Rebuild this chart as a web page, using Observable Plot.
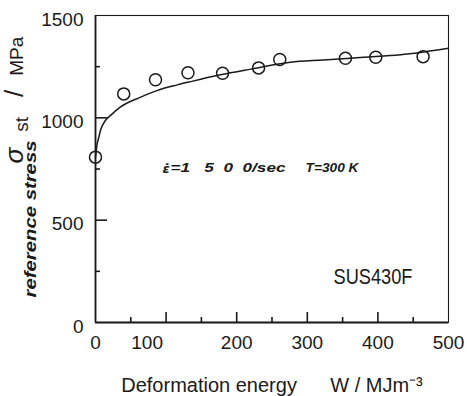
<!DOCTYPE html>
<html>
<head>
<meta charset="utf-8">
<script src="https://cdn.jsdelivr.net/npm/d3@7"></script>
<script src="https://cdn.jsdelivr.net/npm/@observablehq/plot@0.6"></script>
<style>
  body { margin: 0; background: #fff; }
</style>
</head>
<body>
<div id="chart"></div>
<script>
// Measured points (circles)
const energy = [0, 40, 85, 131, 180, 231, 261, 354, 397, 464];
const stress = [808, 1117, 1186, 1220, 1218, 1244, 1285, 1291, 1296, 1299];

// Fitted curve
const curveEnergy = [0, 2, 4.7, 7, 14, 21, 35, 64, 87, 116, 135, 177, 220, 276, 323, 380, 432, 500];
const curveStress = [806, 865, 905, 938, 987, 1011, 1052, 1101, 1133, 1161, 1177, 1210, 1238, 1272, 1283, 1296, 1308, 1340];

// Ticks
const xTickLabels = [0, 200, 300, 400, 500];
const xTickLabelShifted = [100];
const yTickLabels = [0, 500, 1000, 1500];
const xMajor = [100, 200, 300, 400];
const xMinor = [50, 150, 250, 350, 450];
const yMajor = [500, 1000];
const yMinor = [250, 750, 1250];

// Texts
const xTitle = "Deformation energy\u00a0\u00a0\u00a0\u00a0\u00a0\u00a0W / MJm⁻³";
const yTitle = "σst / MPa";
const yTitle2 = "reference stress";
const rateSymbol = "ε̇";
const rateNote = "=1\u00a0\u00a0\u00a05\u00a0\u00a00\u00a0\u00a00/sec";
const tempNote = "T=300 K";
const material = "SUS430F";

const W = 467, H = 396;
const mL = 95, mR = 19, mT = 15, mB = 74;
const plotW = W - mL - mR, plotH = H - mT - mB;
const xDomain = [0, 500], yDomain = [0, 1500];
// tick lengths given in pixels, turned into data units of the other axis
const pxToY = px => px * (yDomain[1] - yDomain[0]) / plotH;
const pxToX = px => px * (xDomain[1] - xDomain[0]) / plotW;

const font = "'Liberation Sans', Arial, sans-serif";
const ink = "#1a1a1a";
const fmt = d => String(d);

const points = energy.map((w, i) => ({ w, s: stress[i] }));
const curve = curveEnergy.map((w, i) => ({ w, s: curveStress[i] }));

const chart = Plot.plot({
  width: W,
  height: H,
  marginLeft: mL,
  marginRight: mR,
  marginTop: mT,
  marginBottom: mB,
  style: { fontFamily: font, fontSize: "19px", color: ink, background: "#fff" },
  x: { domain: xDomain },
  y: { domain: yDomain },
  marks: [
    Plot.frame({ stroke: ink, strokeWidth: 1.1 }),
    Plot.ruleX([0], { stroke: ink, strokeWidth: 1.8 }),
    Plot.ruleY([0], { stroke: ink, strokeWidth: 1.8 }),
    // tick labels
    Plot.axisX(xTickLabels, { tickSize: 0, tickPadding: 13, fontSize: 19, tickFormat: fmt, label: null, fill: ink }),
    Plot.axisX(xTickLabelShifted, { tickSize: 0, tickPadding: 13, dx: -19, fontSize: 19, tickFormat: fmt, label: null, fill: ink }),
    Plot.axisY(yTickLabels, { tickSize: 0, tickPadding: 12, dy: 4, fontSize: 19, tickFormat: fmt, label: null, fill: ink }),
    // inward ticks
    Plot.ruleX(xMajor, { x: d => d, y1: 0, y2: pxToY(10), stroke: ink, strokeWidth: 1.6 }),
    Plot.ruleX(xMinor, { x: d => d, y1: 0, y2: pxToY(5), stroke: ink, strokeWidth: 1.6 }),
    Plot.ruleY(yMajor, { y: d => d, x1: 0, x2: pxToX(12), stroke: ink, strokeWidth: 1.6 }),
    Plot.ruleY(yMinor, { y: d => d, x1: 0, x2: pxToX(5), stroke: ink, strokeWidth: 1.6 }),
    // data
    Plot.line(curve, { x: "w", y: "s", curve: "monotone-x", stroke: ink, strokeWidth: 1.5 }),
    Plot.dot(points, { x: "w", y: "s", r: 6, stroke: ink, strokeWidth: 1.5, fill: "none" }),
    // titles & notes
    Plot.text([xTitle], { frameAnchor: "bottom", dy: 63, lineAnchor: "middle", fontSize: 20, fill: ink }),
    Plot.text([yTitle], { frameAnchor: "left", dx: -79, dy: -5.5, rotate: -90, textAnchor: "start", lineAnchor: "middle", fontSize: 19, fill: ink }),
    Plot.text([yTitle2], { frameAnchor: "left", dx: -65, dy: 128.5, rotate: -90, textAnchor: "start", lineAnchor: "middle", fontSize: 17, fontStyle: "italic", fontWeight: "bold", fill: ink }),
    Plot.text([rateSymbol], { frameAnchor: "top-left", dx: 67, dy: 153, textAnchor: "start", lineAnchor: "middle", fontSize: 13, fontFamily: "DejaVu Sans", fontStyle: "italic", fontWeight: "bold", fill: ink }),
    Plot.text([rateNote], { frameAnchor: "top-left", dx: 75, dy: 153, textAnchor: "start", lineAnchor: "middle", fontSize: 12, fontStyle: "italic", fontWeight: "bold", fill: ink }),
    Plot.text([tempNote], { frameAnchor: "top-left", dx: 210, dy: 153, textAnchor: "start", lineAnchor: "middle", fontSize: 12, fontStyle: "italic", fontWeight: "bold", fill: ink }),
    Plot.text([material], { frameAnchor: "top-left", dx: 238, dy: 261, textAnchor: "start", lineAnchor: "middle", fontSize: 22, fill: ink })
  ]
});

// Fine typographic adjustments (subscript, text spans)
d3.select(chart).selectAll("text").each(function () {
  const t = d3.select(this);
  const s = this.textContent;
  if (s === yTitle) {
    t.text(null);
    t.append("tspan").attr("font-style", "italic").attr("font-size", 26).text("σ");
    t.append("tspan").attr("dx", 16).attr("dy", 5).attr("font-size", 19).text("st");
    t.append("tspan").attr("dx", 20).attr("dy", -5).attr("font-size", 26).text("/");
    t.append("tspan").attr("dx", 14).attr("font-size", 19).text("MPa");
  } else if (s === yTitle2) {
    t.attr("textLength", 157).attr("lengthAdjust", "spacingAndGlyphs");
  } else if (s === rateNote) {
    t.attr("textLength", 115).attr("lengthAdjust", "spacingAndGlyphs");
  } else if (s === tempNote) {
    t.attr("textLength", 53).attr("lengthAdjust", "spacingAndGlyphs");
  } else if (s === material) {
    t.attr("textLength", 79).attr("lengthAdjust", "spacingAndGlyphs");
  }
});

document.getElementById("chart").appendChild(chart);
</script>
</body>
</html>
